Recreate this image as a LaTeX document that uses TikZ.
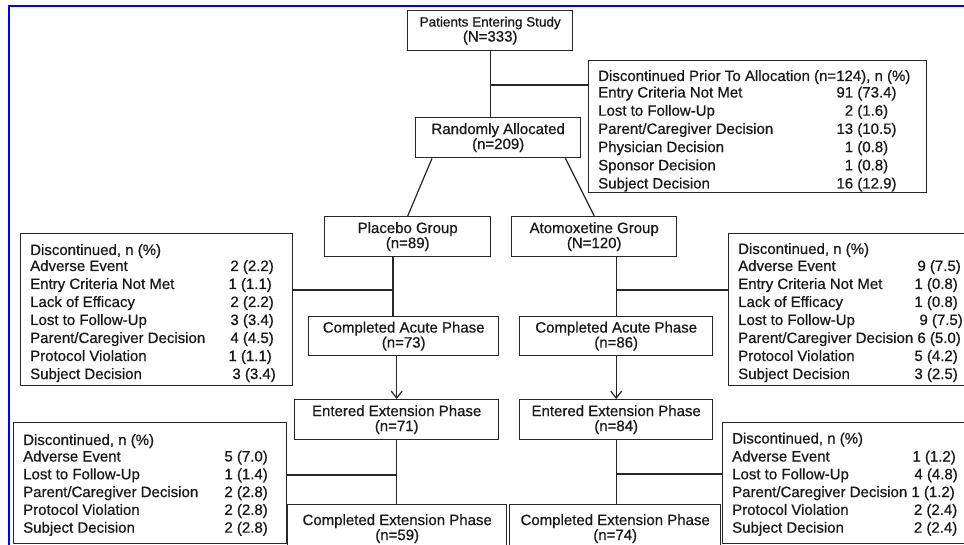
\documentclass[tikz,border=0pt]{standalone}
\usepackage{fontspec}
\setmainfont{Liberation Sans}[FakeBold=0.6]
\usetikzlibrary{arrows.meta}
\begin{document}
\begin{tikzpicture}[x=1pt,y=-1pt,
  box/.style={draw=black!85, line width=1.4pt, inner sep=0pt, align=center, anchor=north west, font=\fontsize{15pt}{15pt}\selectfont, text=black!90},
  tl/.style={inner sep=0pt, anchor=base west, font=\fontsize{15pt}{18pt}\selectfont, text=black!90},
  tr/.style={tl, anchor=base east},
  tc/.style={tl, anchor=base},
  conn/.style={draw=black!85, line width=1.2pt},
  arr/.style={conn, -{Straight Barb[length=7pt,width=11pt,line width=1.2pt]}},
]
\path[clip] (0,0) rectangle (964,545);
\fill[white] (0,0) rectangle (964,545);
% frame
\draw[blue, line width=2.6pt] (9,560) -- (9,6) -- (980,6);

% main boxes
\node[box, minimum width=165pt, minimum height=40pt] (pat) at (407,10) {{\fontsize{13.5pt}{15pt}\selectfont Patients Entering Study}\\(N=333)};
\node[box, minimum width=338pt, minimum height=132pt] (disc) at (588,60) {};
\node[box, minimum width=165pt, minimum height=40pt] (ra) at (415,117) {Randomly Allocated\\(n=209)};
\node[box, minimum width=166pt, minimum height=40pt] (pl) at (324,216) {Placebo Group\\(n=89)};
\node[box, minimum width=165pt, minimum height=40pt] (at) at (511,216) {Atomoxetine Group\\(N=120)};
\node[box, minimum width=190pt, minimum height=39pt] (acp) at (308,316) {Completed Acute Phase\\(n=73)};
\node[box, minimum width=193pt, minimum height=39pt] (aca) at (519,316) {Completed Acute Phase\\(n=86)};
\node[box, minimum width=204pt, minimum height=40pt] (enp) at (294,399) {Entered Extension Phase\\(n=71)};
\node[box, minimum width=193pt, minimum height=40pt] (ena) at (519,399) {Entered Extension Phase\\(n=84)};
\node[box, minimum width=219pt, minimum height=48pt] (cep) at (287,504) {Completed Extension Phase\\(n=59)};
\node[box, minimum width=211pt, minimum height=48pt] (cea) at (509,504) {Completed Extension Phase\\(n=74)};
\node[box, minimum width=272pt, minimum height=152pt] (dl1) at (20,233) {};
\node[box, minimum width=242pt, minimum height=152pt] (dr1) at (728,233) {};
\node[box, minimum width=273pt, minimum height=121pt] (dl2) at (13,422) {};
\node[box, minimum width=248pt, minimum height=121pt] (dr2) at (722,422) {};

% discontinued prior to allocation
\node[tl] (d0) at (598,81) {Discontinued Prior To Allocation (n=124), n (\%)};
\node[tl] (d1) at (598,97.5) {Entry Criteria Not Met};
\node[tl] (d2) at (598,115.7) {Lost to Follow-Up};
\node[tl] (d3) at (598,133.9) {Parent/Caregiver Decision};
\node[tl] (d4) at (598,152.1) {Physician Decision};
\node[tl] (d5) at (598,170.3) {Sponsor Decision};
\node[tl] (d6) at (598,188.5) {Subject Decision};
\node[tc] (dn1) at (866.5,97.5) {91 (73.4)};
\node[tc] (dn2) at (866.5,115.7) {2 (1.6)};
\node[tc] (dn3) at (866.5,133.9) {13 (10.5)};
\node[tc] (dn4) at (866.5,152.1) {1 (0.8)};
\node[tc] (dn5) at (866.5,170.3) {1 (0.8)};
\node[tc] (dn6) at (866.5,188.5) {16 (12.9)};

% left top
\node[tl] (a0) at (30,255) {Discontinued, n (\%)};
\node[tl] (a1) at (30,271) {Adverse Event};
\node[tl] (a2) at (30,289) {Entry Criteria Not Met};
\node[tl] (a3) at (30,307) {Lack of Efficacy};
\node[tl] (a4) at (30,325) {Lost to Follow-Up};
\node[tl] (a5) at (30,343) {Parent/Caregiver Decision};
\node[tl] (a6) at (30,361) {Protocol Violation};
\node[tl] (a7) at (30,379) {Subject Decision};
\node[tr] (an1) at (274,271) {2 (2.2)};
\node[tr] (an2) at (272,289) {1 (1.1)};
\node[tr] (an3) at (274,307) {2 (2.2)};
\node[tr] (an4) at (274,325) {3 (3.4)};
\node[tr] (an5) at (274,343) {4 (4.5)};
\node[tr] (an6) at (272,361) {1 (1.1)};
\node[tr] (an7) at (276,379) {3 (3.4)};

% right top
\node[tl] (b0) at (738,254) {Discontinued, n (\%)};
\node[tl] (b1) at (738,271) {Adverse Event};
\node[tl] (b2) at (738,289) {Entry Criteria Not Met};
\node[tl] (b3) at (738,307) {Lack of Efficacy};
\node[tl] (b4) at (738,325) {Lost to Follow-Up};
\node[tl] (b5) at (738,343) {Parent/Caregiver Decision};
\node[tl] (b6) at (738,361) {Protocol Violation};
\node[tl] (b7) at (738,379) {Subject Decision};
\node[tr] (bn1) at (961,271) {9 (7.5)};
\node[tr] (bn2) at (958,289) {1 (0.8)};
\node[tr] (bn3) at (958,307) {1 (0.8)};
\node[tr] (bn4) at (963,325) {9 (7.5)};
\node[tr] (bn5) at (961,343) {6 (5.0)};
\node[tr] (bn6) at (958,361) {5 (4.2)};
\node[tr] (bn7) at (958,379) {3 (2.5)};

% left bottom
\node[tl] (c0) at (23,445) {Discontinued, n (\%)};
\node[tl] (c1) at (23,461.5) {Adverse Event};
\node[tl] (c2) at (23,479.3) {Lost to Follow-Up};
\node[tl] (c3) at (23,497.1) {Parent/Caregiver Decision};
\node[tl] (c4) at (23,514.9) {Protocol Violation};
\node[tl] (c5) at (23,532.7) {Subject Decision};
\node[tr] (cn1) at (268,461.5) {5 (7.0)};
\node[tr] (cn2) at (268,479.3) {1 (1.4)};
\node[tr] (cn3) at (268,497.1) {2 (2.8)};
\node[tr] (cn4) at (268,514.9) {2 (2.8)};
\node[tr] (cn5) at (268,532.7) {2 (2.8)};

% right bottom
\node[tl] (e0) at (732,443.5) {Discontinued, n (\%)};
\node[tl] (e1) at (732,461.5) {Adverse Event};
\node[tl] (e2) at (732,479.3) {Lost to Follow-Up};
\node[tl] (e3) at (732,497.1) {Parent/Caregiver Decision};
\node[tl] (e4) at (732,514.9) {Protocol Violation};
\node[tl] (e5) at (732,532.7) {Subject Decision};
\node[tr] (en1) at (956,461.5) {1 (1.2)};
\node[tr] (en2) at (958,479.3) {4 (4.8)};
\node[tr] (en3) at (955,497.1) {1 (1.2)};
\node[tr] (en4) at (957.5,514.9) {2 (2.4)};
\node[tr] (en5) at (957.5,532.7) {2 (2.4)};

% connectors
\coordinate (j0) at (489.5,85);
\coordinate (bp1) at (393,290);
\coordinate (bp2) at (615.5,290);
\coordinate (bp3) at (396,475);
\coordinate (bp4) at (615.5,474);
\draw[conn] (pat.south) -- (pat.south |- ra.north);
\draw[conn] (j0) -- (j0 -| disc.west);
\draw[conn] ([xshift=17pt]ra.south west) -- (pl.north);
\draw[conn] ([xshift=-16pt]ra.south east) -- (at.north);
\draw[conn] (bp1 |- pl.south) -- (bp1 |- acp.north);
\draw[conn] (bp1) -- (bp1 -| dl1.east);
\draw[conn] (aca.north |- at.south) -- (aca.north);
\draw[conn] (bp2) -- (bp2 -| dr1.west);
\draw[arr] (acp.south -| enp.north) -- (enp.north);
\draw[arr] (aca.south) -- (ena.north);
\draw[conn] (enp.south) -- (enp.south |- cep.north);
\draw[conn] (bp3) -- (bp3 -| dl2.east);
\draw[conn] (ena.south) -- (ena.south |- cea.north);
\draw[conn] (bp4) -- (bp4 -| dr2.west);
\end{tikzpicture}
\end{document}
